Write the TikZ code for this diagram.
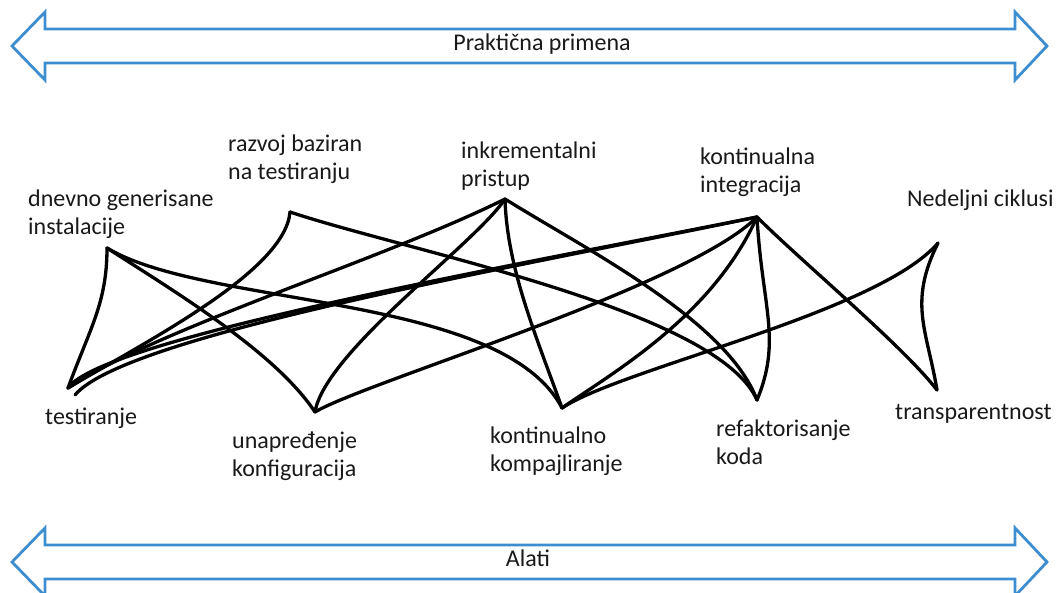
\documentclass[tikz,border=0pt]{standalone}
\usepackage{fontspec}
\setmainfont{Carlito}
\usepackage{tikz}
\usetikzlibrary{positioning}
\definecolor{bandblue}{RGB}{61,142,208}
\tikzstyle{word} = [anchor=base west, align=left, inner sep=0pt, font=\fontsize{24}{28}\selectfont, text=black!90]
\tikzstyle{bandtext} = [anchor=base, inner sep=0pt, font=\fontsize{24}{28}\selectfont, text=black!90]
\tikzstyle{band} = [draw=bandblue, line width=2.8pt, fill=white, line join=miter]
\tikzstyle{link} = [line width=3.3pt, line cap=round, line join=round]

\begin{document}
\begin{tikzpicture}[x=1pt, y=-1pt]
        \useasboundingbox (0,0) rectangle (1057,592);

        % Bands
        \draw [band] (12,46) -- (45,12) -- (45,29) -- (1015,29) -- (1015,12) -- (1047,46) -- (1015,80) -- (1015,63) -- (45,63) -- (45,80) -- cycle;
        \draw [band] (12,562) -- (45,528) -- (45,545) -- (1015,545) -- (1015,528) -- (1047,562) -- (1015,596) -- (1015,579) -- (45,579) -- (45,596) -- cycle;
        \node (primena) [bandtext] at (542,50) {Praktična primena};
        \node (alati) [bandtext] at (528,566) {Alati};

        % Nodes (base = last line)
        \node (dnevno) [word] at (28,234) {dnevno generisane\\instalacije};
        \node (razvoj) [word] at (228,179) {razvoj baziran\\na testiranju};
        \node (inkrement) [word] at (461,186) {inkrementalni\\pristup};
        \node (integracija) [word] at (700,192) {kontinualna\\integracija};
        \node (ciklusi) [word] at (907,206) {Nedeljni ciklusi};
        \node (testiranje) [word] at (45,424) {testiranje};
        \node (konfig) [word] at (232,476) {unapređenje\\konfiguracija};
        \node (kompajl) [word] at (490,471) {kontinualno\\kompajliranje};
        \node (refakt) [word] at (716,464) {refaktorisanje\\koda};
        \node (transp) [word] at (895,419) {transparentnost};

        % Tips
        \coordinate (dtip) at (107,248);
        \coordinate (rtip) at (290,212);
        \coordinate (itip) at (505,199);
        \coordinate (ktip) at (757,217);
        \coordinate (ntip) at (938,243);
        \coordinate (ttip) at (68,388);
        \coordinate (ttip2) at (75,395);
        \coordinate (utip) at (315,412);
        \coordinate (kktip) at (562,408);
        \coordinate (rftip) at (757,400);
        \coordinate (trtip) at (937,390);

        % Links
        \draw [link] (dtip) .. controls +(0,55) and +(22,-60) .. (ttip);
        \draw [link] (dtip) .. controls +(70,45) and +(-40,-60) .. (utip);
        \draw [link] (dtip) .. controls +(100,60) and +(-60,-115) .. (kktip);
        \draw [link] (rtip) .. controls +(-5,60) and +(75,-45) .. (ttip);
        \draw [link] (rtip) .. controls +(120,40) and +(-40,-90) .. (rftip);
        \draw [link] (itip) .. controls +(-120,60) and +(90,-60) .. (ttip);
        \draw [link] (itip) .. controls +(-30,45) and +(10,-60) .. (utip);
        \draw [link] (itip) .. controls +(2,70) and +(-25,-70) .. (kktip);
        \draw [link] (itip) .. controls +(80,50) and +(-30,-80) .. (rftip);
        \draw [link] (ttip) .. controls +(35,-50) and +(-240,48) .. (ktip);
        \draw [link] (ttip2) .. controls +(50,-60) and +(-240,50) .. (ktip);
        \draw [link] (utip) .. controls +(50,-30) and +(-70,70) .. (ktip);
        \draw [link] (kktip) .. controls +(50,-35) and +(-45,100) .. (ktip);
        \draw [link] (kktip) .. controls +(60,-40) and +(-60,70) .. (ntip);
        \draw [link] (ktip) .. controls +(5,90) and +(25,-60) .. (rftip);
        \draw [link] (ktip) .. controls +(45,45) and +(-35,-45) .. (trtip);
        \draw [link] (ntip) .. controls +(-30,60) and +(-10,-60) .. (trtip);

    \end{tikzpicture}
\end{document}
